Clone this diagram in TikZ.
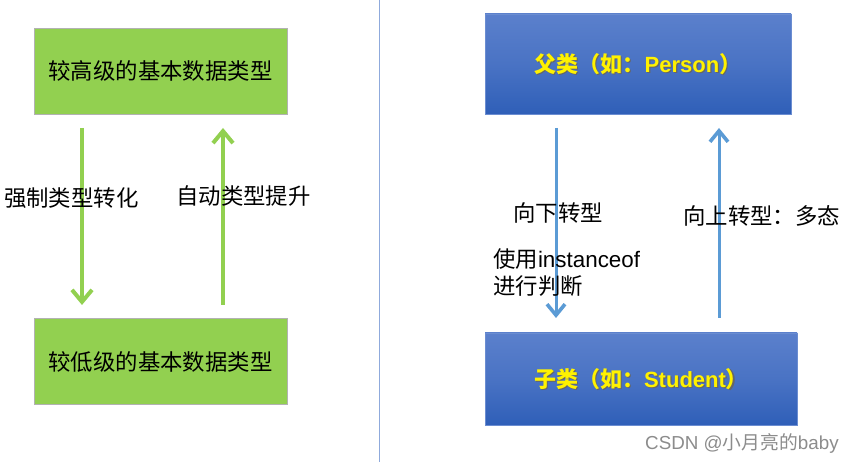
\documentclass[tikz,border=0pt]{standalone}
\usepackage{fontspec}
\setmainfont{Liberation Sans}
\newfontfamily\cjk{Noto Sans CJK SC}
\usetikzlibrary{arrows.meta,shadings}
\definecolor{gfill}{HTML}{92D050}
\definecolor{gline}{HTML}{92D050}
\definecolor{btop}{HTML}{5B80CC}
\definecolor{bbot}{HTML}{2F5FB8}
\definecolor{bline}{HTML}{5B9BD5}
\definecolor{divc}{HTML}{8FAADC}
\tikzset{
  greenbox/.style={draw=black!30, line width=0.8pt, fill=gfill, minimum width=253pt, minimum height=86pt, inner sep=0pt, font=\fontsize{22.4}{26}\selectfont\cjk},
  bluebox/.style={draw=btop!90, line width=0.8pt, top color=btop, bottom color=bbot, middle color=btop!60!bbot, inner sep=0pt},
  yel/.style={text=yellow, font=\fontsize{22}{26}\selectfont\bfseries},
  shd/.style={text=black!60, font=\fontsize{22}{26}\selectfont\bfseries},
  lbl/.style={font=\fontsize{22.4}{26}\selectfont\cjk, inner sep=0pt},
  garrow/.style={draw=gline, line width=3.2pt, -{Straight Barb[length=12pt,width=20pt,line width=4pt]}},
  barrow/.style={draw=bline, line width=3pt, -{Straight Barb[length=11pt,width=18pt,line width=3.6pt]}},
}
\begin{document}
\begin{tikzpicture}[x=1pt,y=-1pt]
\useasboundingbox[fill=white] (0,0) rectangle (855,462);
% divider
\draw[divc, line width=1pt] (379,0) -- (379,462);
% left boxes
\node[greenbox] (hi) at (160.5,71) {较高级的基本数据类型};
\node[greenbox] (lo) at (160.5,361.5) {较低级的基本数据类型};
\coordinate (d1) at (82,128);
\coordinate (d2) at (82,305);
\coordinate (u1) at (223,305);
\coordinate (u2) at (223,128);
\draw[garrow] (d1) -- (d2);
\draw[garrow] (u1) -- (u2);
\node[lbl, anchor=west] (l1) at (4,198) {强制类型转化};
\node[lbl, anchor=west] (l2) at (176,196) {自动类型提升};
% right boxes
\node[bluebox, minimum width=306pt, minimum height=100pt] (par) at (638,64) {};
\node[bluebox, minimum width=312pt, minimum height=92pt] (chi) at (641,379) {};
\node[shd] at ([shift={(1.2,1.2)}]par.center) {{\cjk 父类（如：}Person{\cjk ）}};
\node[yel] (pt) at (par.center) {{\cjk 父类（如：}Person{\cjk ）}};
\node[shd] at ([shift={(1.2,1.2)}]chi.center) {{\cjk 子类（如：}Student{\cjk ）}};
\node[yel] (ct) at (chi.center) {{\cjk 子类（如：}Student{\cjk ）}};
\coordinate (e1) at (556,128);
\coordinate (e2) at (556,318);
\coordinate (f1) at (719,318);
\coordinate (f2) at (719,128);
\draw[barrow] (e1) -- (e2);
\draw[barrow] (f1) -- (f2);
\node[lbl, anchor=west] (r1) at (513,213) {向下转型};
\node[lbl, anchor=west] (r2) at (683,216) {向上转型：多态};
\node[font=\fontsize{22.4}{26}\selectfont, anchor=west, inner sep=0pt] (r3) at (493,259) {{\cjk 使用}instanceof};
\node[lbl, anchor=west] (r4) at (493,286) {进行判断};
% watermark
\node[font=\fontsize{18.8}{22}\selectfont, text=black!45, anchor=west, inner sep=0pt] (wm) at (645,443) {CSDN @{\cjk 小月亮的}baby};
\end{tikzpicture}
\end{document}
